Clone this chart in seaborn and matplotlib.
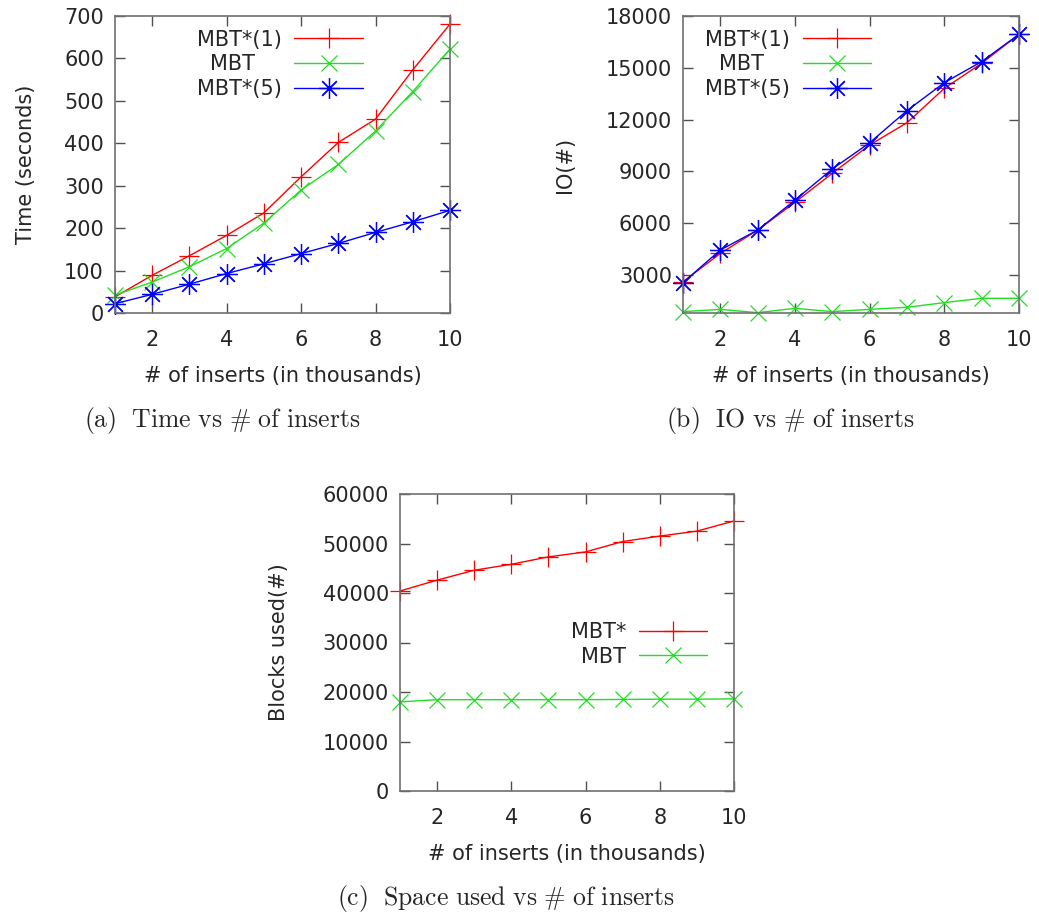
import matplotlib
matplotlib.use("Agg")
import matplotlib.pyplot as plt
import seaborn as sns

# x axis: number of inserts (thousands)
inserts = [1, 2, 3, 4, 5, 6, 7, 8, 9, 10]

# (a) time in seconds
time_mbt_star1 = [38, 89, 135, 183, 236, 321, 402, 457, 573, 681]
time_mbt = [42, 73, 109, 152, 212, 290, 350, 429, 522, 622]
time_mbt_star5 = [22, 44, 68, 93, 116, 140, 164, 190, 215, 242]

# (b) IO count
io_mbt_star1 = [2610, 4250, 5600, 7210, 8890, 10530, 11820, 13810, 15260, 16940]
io_mbt = [880, 1010, 820, 1070, 880, 1010, 1130, 1400, 1650, 1650]
io_mbt_star5 = [2560, 4450, 5600, 7340, 9140, 10660, 12520, 14140, 15360, 16940]

# (c) blocks used
blocks_mbt_star = [40400, 42600, 44600, 45800, 47300, 48300, 50400, 51500, 52500, 54550]
blocks_mbt = [18000, 18450, 18450, 18450, 18450, 18450, 18500, 18550, 18550, 18600]

RED = "#ff0000"
GREEN = "#22dd22"
BLUE = "#0000ff"
STAR = (8, 2, 0)
FS = 15

sns.set_style("ticks")
plt.rcParams["font.family"] = ["DejaVu Sans"]
plt.rcParams["mathtext.fontset"] = "cm"

fig = plt.figure(figsize=(10.39, 9.15), dpi=100)
W, H = 1039, 915


def add_axes(left, top, right, bottom):
    return fig.add_axes([left / W, 1 - bottom / H, (right - left) / W, (bottom - top) / H])


def style_axes(ax):
    for s in ax.spines.values():
        s.set_color("#707070")
        s.set_linewidth(1.2)
    ax.tick_params(direction="in", length=7, width=1.0, color="#505050",
                   top=True, right=True, labelsize=FS, pad=8)
    ax.tick_params(axis="x", pad=12)
    ax.set_xlim(1, 10)
    ax.set_xticks([2, 4, 6, 8, 10])
    ax.set_xlabel("# of inserts (in thousands)", fontsize=FS, labelpad=12)


def draw(ax, y, color, marker, label, ms):
    sns.lineplot(x=inserts, y=y, ax=ax, color=color, marker=marker, markersize=ms,
                 markeredgewidth=0.9, markeredgecolor=color, linewidth=1.0,
                 label=label, clip_on=False)


def legend(ax, anchor, loc):
    ax.legend(loc=loc, bbox_to_anchor=anchor, frameon=False, markerfirst=False,
              fontsize=FS, handlelength=3.3, labelspacing=0.22, handletextpad=0.6,
              borderpad=0.3)


# (a)
ax1 = add_axes(115, 16, 450, 313)
draw(ax1, time_mbt_star1, RED, "+", "MBT*(1)", 14)
draw(ax1, time_mbt, GREEN, "x", "MBT    ", 12)
draw(ax1, time_mbt_star5, BLUE, STAR, "MBT*(5)", 15)
ax1.set_ylim(0, 700)
ax1.set_yticks(range(0, 701, 100))
ax1.set_ylabel("Time (seconds)", fontsize=FS, labelpad=20)
style_axes(ax1)
legend(ax1, (0.79, 1.01), "upper right")

# (b)
ax2 = add_axes(683, 16, 1019, 313)
draw(ax2, io_mbt_star1, RED, "+", "MBT*(1)", 14)
draw(ax2, io_mbt, GREEN, "x", "MBT    ", 12)
draw(ax2, io_mbt_star5, BLUE, STAR, "MBT*(5)", 15)
ax2.set_ylim(800, 18000)
ax2.set_yticks(range(3000, 18001, 3000))
ax2.set_ylabel("IO(#)", fontsize=FS, labelpad=22)
style_axes(ax2)
legend(ax2, (0.61, 1.01), "upper right")

# (c)
ax3 = add_axes(400, 494, 734, 791)
draw(ax3, blocks_mbt_star, RED, "+", "MBT*", 14)
draw(ax3, blocks_mbt, GREEN, "x", "MBT", 12)
ax3.set_ylim(0, 60000)
ax3.set_yticks(range(0, 60001, 10000))
ax3.set_ylabel("Blocks used(#)", fontsize=FS, labelpad=24)
style_axes(ax3)
legend(ax3, (0.97, 0.625), "upper right")

# captions
fig.text(222 / W, 1 - 421 / H, r"$\mathrm{(a)\ \ Time\ vs\ \#\ of\ inserts}$",
         ha="center", va="center", fontsize=18.5)
fig.text(790 / W, 1 - 421 / H, r"$\mathrm{(b)\ \ IO\ vs\ \#\ of\ inserts}$",
         ha="center", va="center", fontsize=18.5)
fig.text(506 / W, 1 - 899 / H, r"$\mathrm{(c)\ \ Space\ used\ vs\ \#\ of\ inserts}$",
         ha="center", va="center", fontsize=18.5)

fig.savefig("out.png", dpi=100, facecolor="white")
